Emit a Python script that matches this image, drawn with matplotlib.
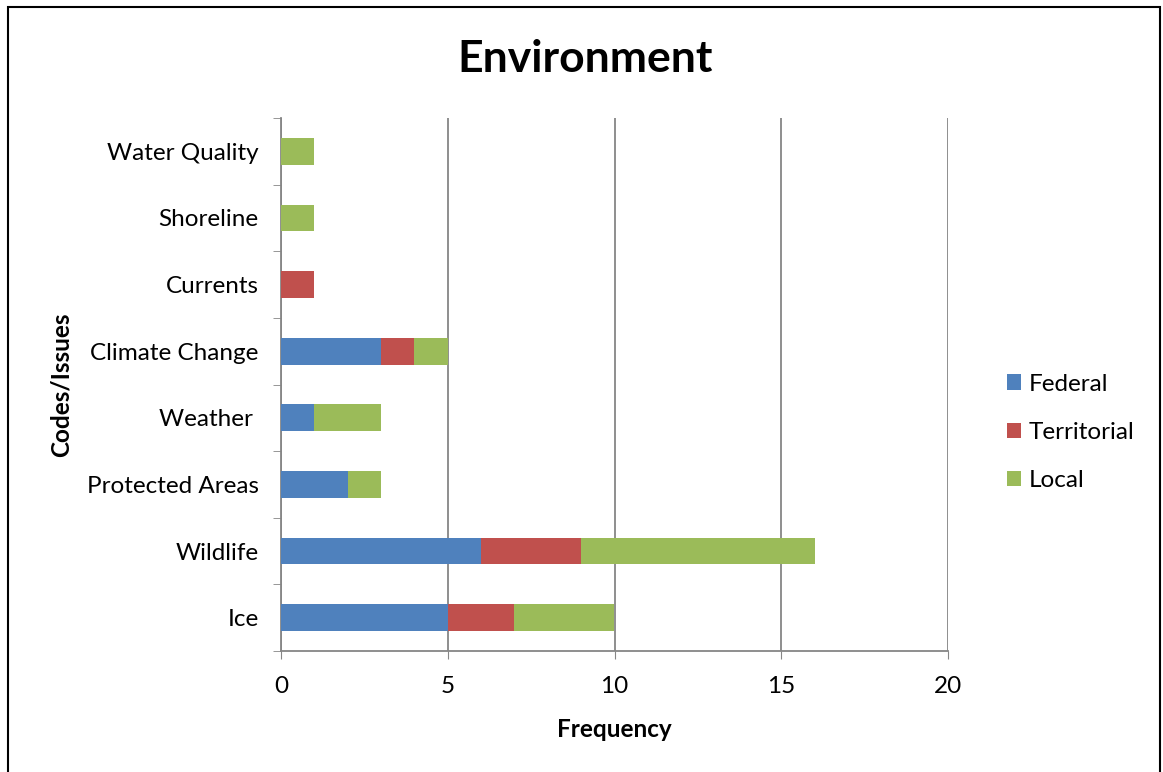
import numpy as np
import matplotlib.pyplot as plt
from matplotlib.patches import Rectangle

plt.rcParams['font.family'] = ['Lato', 'DejaVu Sans']

# data
categories = ['Ice', 'Wildlife', 'Protected Areas', 'Weather ', 'Climate Change',
              'Currents', 'Shoreline', 'Water Quality']
federal = [5, 6, 2, 1, 3, 0, 0, 0]
territorial = [2, 3, 0, 0, 1, 1, 0, 0]
local = [3, 7, 1, 2, 1, 0, 1, 1]
series_names = ['Federal', 'Territorial', 'Local']
colors = ['#4F81BD', '#C0504D', '#9BBB59']

fig = plt.figure(figsize=(11.63, 7.72), dpi=100)
ax = fig.add_axes([281 / 1163, 1 - 651 / 772, (948 - 281) / 1163, (651 - 118) / 772])

y = np.arange(len(categories))
left = np.zeros(len(categories))
for vals, name, c in zip([federal, territorial, local], series_names, colors):
    ax.barh(y, vals, left=left, height=0.4, color=c, label=name, zorder=3)
    left += np.array(vals)

fs = 17.5
ax.set_xlim(0, 20)
ax.set_ylim(-0.5, len(categories) - 0.5)
ax.set_xticks([0, 5, 10, 15, 20])
ax.tick_params(axis='x', labelsize=fs, length=6, color='#868686', pad=12)
ax.set_yticks(y)
ax.set_yticklabels(categories, fontsize=fs)
ax.set_yticks(np.arange(-0.5, len(categories)), minor=True)
ax.tick_params(axis='y', which='major', length=0, pad=16)
ax.tick_params(axis='y', which='minor', length=6, color='#868686')
ax.grid(axis='x', color='#868686', linewidth=1.3, zorder=0)

for side in ['top', 'right']:
    ax.spines[side].set_visible(False)
for side in ['left', 'bottom']:
    ax.spines[side].set_color('#868686')
    ax.spines[side].set_linewidth(1.3)

ax.set_xlabel('Frequency', fontsize=fs, fontweight='bold', labelpad=15)
ax.set_ylabel('Codes/Issues', fontsize=fs, fontweight='bold', labelpad=10)
fig.text(0.503, 1 - 59 / 772, 'Environment', ha='center', va='center',
         fontsize=32, fontweight='bold')

leg = ax.legend(loc='center left', bbox_to_anchor=(1.055, 0.41), frameon=False,
                fontsize=fs, handlelength=0.6, handleheight=0.6,
                labelspacing=1.12, handletextpad=0.3)

# outer chart frame (bottom edge runs off the picture)
fig.patches.append(Rectangle((8 / 1163, -0.05), (1160 - 8) / 1163, 1.05 - 7 / 772,
                             transform=fig.transFigure, fill=False,
                             edgecolor='black', linewidth=1.5))

fig.savefig('out.png', dpi=100)
